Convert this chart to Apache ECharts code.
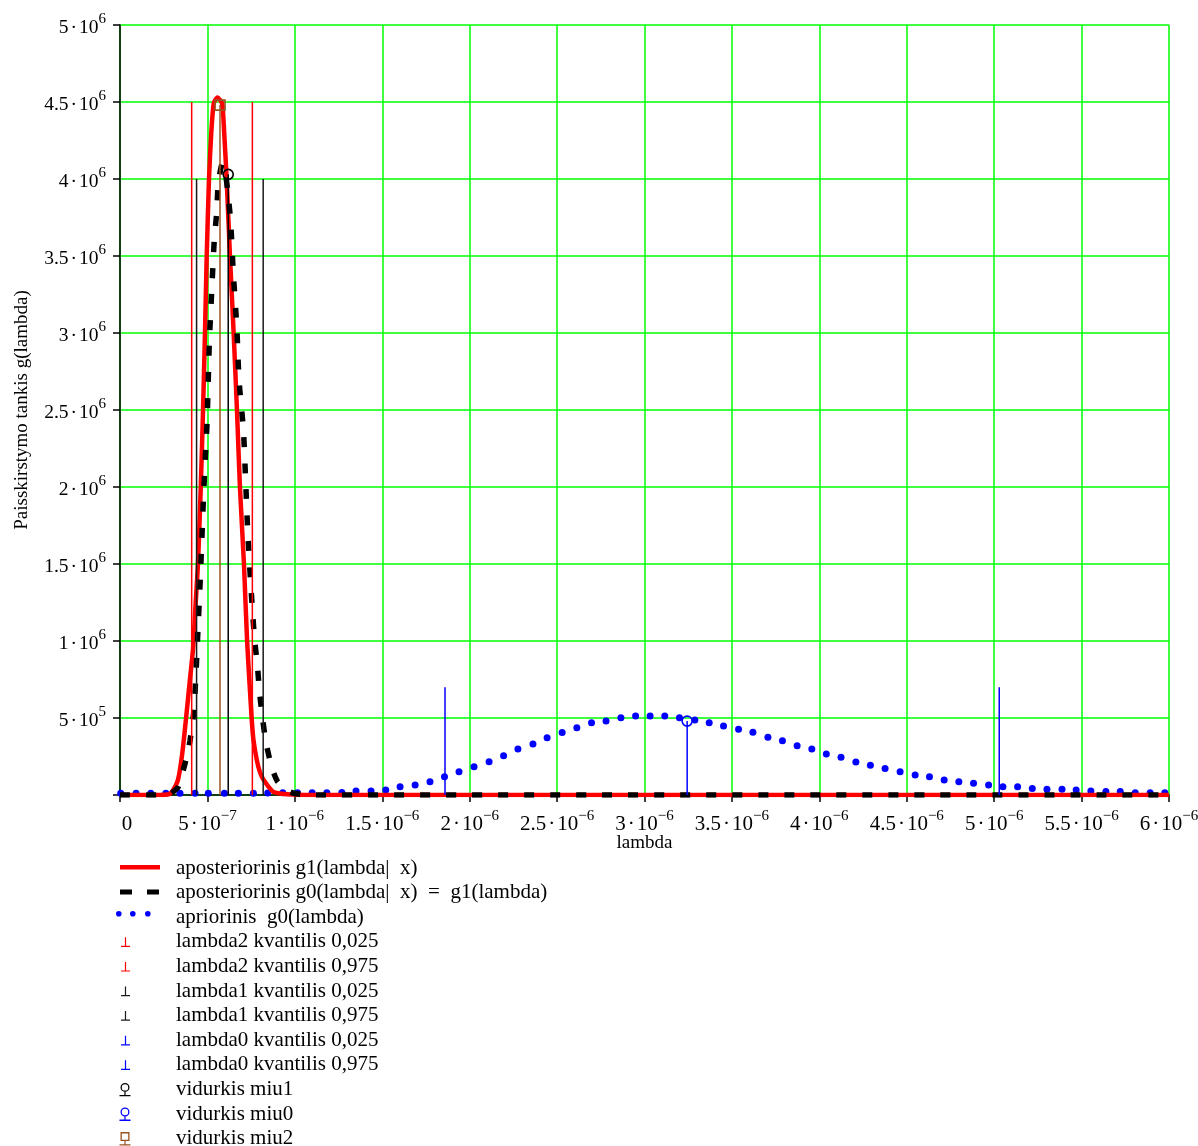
<!DOCTYPE html>
<html><head><meta charset="utf-8">
<script src="https://cdn.jsdelivr.net/npm/echarts@6/dist/echarts.min.js"></script>
<style>html,body{margin:0;padding:0;background:#fff}#c{width:1198px;height:1146px}</style>
</head><body><div id="c"></div>
<script>
// lambda in units of 1e-6, density in units of 1e6
const g1Lambda = [0, 0.20, 0.28, 0.303, 0.332, 0.355, 0.378, 0.400, 0.418, 0.433, 0.446, 0.462, 0.475, 0.486, 0.496, 0.509, 0.522, 0.536, 0.557, 0.584, 0.596, 0.610, 0.629, 0.650, 0.669, 0.686, 0.709, 0.727, 0.753, 0.763, 0.782, 0.800, 0.820, 0.877, 0.954, 1.10, 6.00];
const g1Values = [0, 0, 0.005, 0.03, 0.10, 0.26, 0.50, 0.75, 0.95, 1.25, 1.50, 2.00, 2.50, 3.00, 3.50, 4.00, 4.30, 4.49, 4.53, 4.49, 4.30, 4.00, 3.50, 3.00, 2.50, 2.00, 1.50, 1.00, 0.50, 0.36, 0.23, 0.15, 0.10, 0.02, 0.005, 0, 0];

const g0PostLambda = [0, 0.25, 0.29, 0.303, 0.332, 0.378, 0.400, 0.423, 0.435, 0.445, 0.459, 0.477, 0.490, 0.498, 0.511, 0.524, 0.539, 0.553, 0.562, 0.585, 0.605, 0.620, 0.633, 0.648, 0.668, 0.681, 0.706, 0.719, 0.731, 0.749, 0.769, 0.786, 0.797, 0.814, 0.835, 0.868, 0.900, 0.954, 1.000, 1.10, 6.00];
const g0PostValues = [0, 0, 0.01, 0.02, 0.05, 0.23, 0.35, 0.55, 0.80, 1.05, 1.40, 1.92, 2.24, 2.42, 2.94, 3.26, 3.60, 3.78, 3.97, 4.10, 4.02, 3.88, 3.72, 3.39, 3.04, 2.69, 2.37, 2.03, 1.70, 1.35, 1.02, 0.84, 0.68, 0.51, 0.34, 0.18, 0.09, 0.03, 0.01, 0, 0];

const priorLambda = [0.004, 0.092, 0.176, 0.262, 0.343, 0.429, 0.505, 0.597, 0.677, 0.763, 0.845, 0.931, 1.015, 1.099, 1.183, 1.269, 1.350, 1.436, 1.520, 1.602, 1.688, 1.773, 1.856, 1.939, 2.025, 2.111, 2.194, 2.276, 2.362, 2.443, 2.529, 2.613, 2.697, 2.780, 2.865, 2.949, 3.032, 3.116, 3.200, 3.288, 3.370, 3.452, 3.538, 3.620, 3.706, 3.789, 3.873, 3.957, 4.040, 4.124, 4.209, 4.292, 4.376, 4.462, 4.548, 4.630, 4.714, 4.798, 4.882, 4.968, 5.050, 5.134, 5.218, 5.302, 5.388, 5.469, 5.553, 5.639, 5.721, 5.807, 5.892, 5.976];
const priorValues = [0.011, 0.011, 0.011, 0.011, 0.011, 0.011, 0.011, 0.012, 0.012, 0.012, 0.013, 0.015, 0.015, 0.015, 0.015, 0.016, 0.026, 0.026, 0.032, 0.054, 0.065, 0.086, 0.119, 0.151, 0.184, 0.216, 0.255, 0.299, 0.331, 0.372, 0.406, 0.437, 0.469, 0.481, 0.502, 0.513, 0.513, 0.513, 0.502, 0.487, 0.469, 0.448, 0.427, 0.407, 0.375, 0.353, 0.320, 0.299, 0.266, 0.245, 0.214, 0.193, 0.172, 0.151, 0.130, 0.119, 0.097, 0.086, 0.076, 0.065, 0.054, 0.054, 0.043, 0.037, 0.037, 0.032, 0.026, 0.022, 0.022, 0.015, 0.015, 0.015];

const quantileNames = ['lambda2 kvantilis 0,025', 'lambda2 kvantilis 0,975', 'lambda1 kvantilis 0,025', 'lambda1 kvantilis 0,975', 'lambda0 kvantilis 0,025', 'lambda0 kvantilis 0,975'];
const quantileValues = [0.410, 0.757, 0.438, 0.819, 1.859, 5.029];
const quantileHeights = [4.5, 4.5, 4.0, 4.0, 0.7, 0.7];
const quantileColors = ['#ff0000', '#ff0000', '#1a1a1a', '#1a1a1a', '#0000ff', '#0000ff'];

const meanNames = ['vidurkis miu1', 'vidurkis miu0', 'vidurkis miu2'];
const meanValues = [0.619, 3.244, 0.572];
const meanHeights = [4.03, 0.48, 4.48];
const meanColors = ['#000000', '#0000ff', '#9a5220'];
const meanSymbols = ['circle', 'circle', 'rect'];

const curveNames = ['aposteriorinis g1(lambda|  x)', 'aposteriorinis g0(lambda|  x)  =  g1(lambda)', 'apriorinis  g0(lambda)'];

const xTickLabels = ['0', '5·10^−7', '1·10^−6', '1.5·10^−6', '2·10^−6', '2.5·10^−6', '3·10^−6', '3.5·10^−6', '4·10^−6', '4.5·10^−6', '5·10^−6', '5.5·10^−6', '6·10^−6'];
const yTickLabels = ['', '5·10^5', '1·10^6', '1.5·10^6', '2·10^6', '2.5·10^6', '3·10^6', '3.5·10^6', '4·10^6', '4.5·10^6', '5·10^6'];

const FONT = "'Liberation Serif','Times New Roman',serif";
const zip = (a, b) => a.map((x, i) => [x, b[i]]);
function fmt(list, v) {
  const s = list[Math.round(v / 0.5)];
  if (s === undefined || s === '') return '';
  const p = s.split('^');
  if (p.length < 2) return '{z|' + p[0] + '}';
  const q = p[0].split('·');
  return '{m|' + q[0] + '}{d|·}{m|' + q[1] + '}{e|' + p[1] + '}';
}

const series = [
  { name: curveNames[0], type: 'line', data: zip(g1Lambda, g1Values), smooth: 0.2, symbol: 'none',
    lineStyle: { color: '#ff0000', width: 4.5 }, itemStyle: { color: '#ff0000' } },
  { name: curveNames[1], type: 'line', data: zip(g0PostLambda, g0PostValues), smooth: 0.2, symbol: 'none',
    lineStyle: { color: '#000', width: 5.5, type: [10, 16] }, itemStyle: { color: '#000' } },
  { name: curveNames[2], type: 'scatter', data: zip(priorLambda, priorValues), symbol: 'circle', symbolSize: 7,
    itemStyle: { color: '#0000ff', opacity: 1 } }
];
quantileNames.forEach((n, i) => series.push({
  name: n, type: 'line', symbol: 'none',
  data: [[quantileValues[i], 0], [quantileValues[i], quantileHeights[i]]],
  lineStyle: { color: quantileColors[i], width: 1.5 }, itemStyle: { color: quantileColors[i] }
}));
meanNames.forEach((n, i) => series.push({
  name: n, type: 'line', symbolSize: 10,
  data: [{ value: [meanValues[i], 0], symbol: 'none' }, { value: [meanValues[i], meanHeights[i]], symbol: meanSymbols[i] }],
  lineStyle: { color: meanColors[i], width: 1.5 },
  itemStyle: { color: 'rgba(0,0,0,0)', borderColor: meanColors[i], borderWidth: 1.6 }
}));

// legend icons in a 48x14 box
const BOX = 'M0,0 M48,14 ';
const icons = {
  red: BOX + 'M4,4 L44,4 L44,8.5 L4,8.5 Z',
  dash: BOX + 'M4,4 L16,4 L16,9 L4,9 Z M31,4 L43,4 L43,9 L31,9 Z',
  dots: BOX + 'M0,3.5 A2.8,2.8 0 1,0 5.6,3.5 A2.8,2.8 0 1,0 0,3.5 Z M14,3.5 A2.8,2.8 0 1,0 19.6,3.5 A2.8,2.8 0 1,0 14,3.5 Z M29,3.5 A2.8,2.8 0 1,0 34.6,3.5 A2.8,2.8 0 1,0 29,3.5 Z',
  quant: BOX + 'M5,11 L14,11 L14,12.2 L5,12.2 Z M8.9,2.5 L10.1,2.5 L10.1,11 L8.9,11 Z',
  ring: BOX + 'M4.5,5 A4.5,4.5 0 1,0 13.5,5 A4.5,4.5 0 1,0 4.5,5 Z M5.8,5 A3.2,3.2 0 1,1 12.2,5 A3.2,3.2 0 1,1 5.8,5 Z M8.4,9.4 L9.6,9.4 L9.6,13 L8.4,13 Z M3.5,12.6 L14.5,12.6 L14.5,13.9 L3.5,13.9 Z',
  square: BOX + 'M4.5,0.5 L13.5,0.5 L13.5,9.5 L4.5,9.5 Z M5.8,1.8 L5.8,8.2 L12.2,8.2 L12.2,1.8 Z M8.4,9.5 L9.6,9.5 L9.6,13 L8.4,13 Z M3.5,12.6 L14.5,12.6 L14.5,13.9 L3.5,13.9 Z'
};
const legendData = [
  { name: curveNames[0], icon: 'path://' + icons.red, itemStyle: { color: '#ff0000', borderWidth: 0 } },
  { name: curveNames[1], icon: 'path://' + icons.dash, itemStyle: { color: '#000', borderWidth: 0 } },
  { name: curveNames[2], icon: 'path://' + icons.dots, itemStyle: { color: '#0000ff', borderWidth: 0 } }
];
quantileNames.forEach((n, i) => legendData.push({ name: n, icon: 'path://' + icons.quant, itemStyle: { color: quantileColors[i], borderWidth: 0 } }));
meanNames.forEach((n, i) => legendData.push({ name: n, icon: 'path://' + (meanSymbols[i] === 'rect' ? icons.square : icons.ring), itemStyle: { color: meanColors[i], borderWidth: 0 } }));

const chart = echarts.init(document.getElementById('c'), null, { renderer: 'canvas' });
chart.setOption({
  animation: false,
  backgroundColor: '#fff',
  grid: { left: 120, right: 29, top: 25, bottom: 351, containLabel: false, outerBoundsMode: 'none' },
  legend: {
    orient: 'vertical', left: 116, top: 857.5, height: 340, padding: 0, itemWidth: 48, itemHeight: 14, itemGap: 3.6,
    selectedMode: false, data: legendData,
    formatter: n => '{p|}' + n,
    textStyle: { fontFamily: FONT, fontSize: 21, color: '#000', lineHeight: 21, rich: { p: { width: 7 } } }
  },
  xAxis: {
    type: 'value', min: 0, max: 6, interval: 0.5,
    name: 'lambda', nameLocation: 'middle', nameGap: 39, nameMoveOverlap: false,
    nameTextStyle: { fontFamily: FONT, fontSize: 19, color: '#000' },
    axisLine: { show: true, onZero: false, lineStyle: { color: '#000', width: 1.5 } },
    axisTick: { show: true, length: 7, lineStyle: { color: '#000', width: 1.5 } },
    splitLine: { show: true, lineStyle: { color: '#00ff00', width: 1.5 } },
    axisLabel: {
      margin: 19, formatter: v => fmt(xTickLabels, v),
      rich: {
        z: { fontFamily: FONT, fontSize: 21, color: '#000', lineHeight: 21, padding: [0, 0, 0, 14] },
        m: { fontFamily: FONT, fontSize: 21, color: '#000', lineHeight: 21 },
        d: { fontFamily: FONT, fontSize: 21, color: '#000', lineHeight: 21, padding: [0, 2, 0, 2] },
        e: { fontFamily: FONT, fontSize: 15, color: '#000', lineHeight: 15, padding: [0, 0, 17, 0] }
      }
    }
  },
  yAxis: {
    type: 'value', min: 0, max: 5, interval: 0.5,
    name: 'Paisskirstymo tankis g(lambda)', nameLocation: 'middle', nameGap: 88,
    nameTextStyle: { fontFamily: FONT, fontSize: 19, color: '#000' },
    axisLine: { show: true, onZero: false, lineStyle: { color: '#000', width: 1.5 } },
    axisTick: { show: true, length: 7, lineStyle: { color: '#000', width: 1.5 } },
    splitLine: { show: true, lineStyle: { color: '#00ff00', width: 1.5 } },
    axisLabel: {
      margin: 14, formatter: v => fmt(yTickLabels, v),
      rich: {
        m: { fontFamily: FONT, fontSize: 19.5, color: '#000', lineHeight: 19.5, padding: [5, 0, 0, 0] },
        d: { fontFamily: FONT, fontSize: 19.5, color: '#000', lineHeight: 19.5, padding: [5, 2, 0, 2] },
        e: { fontFamily: FONT, fontSize: 15, color: '#000', lineHeight: 15, padding: [0, 0, 12, 0] }
      }
    }
  },
  series: series
});
</script></body></html>
